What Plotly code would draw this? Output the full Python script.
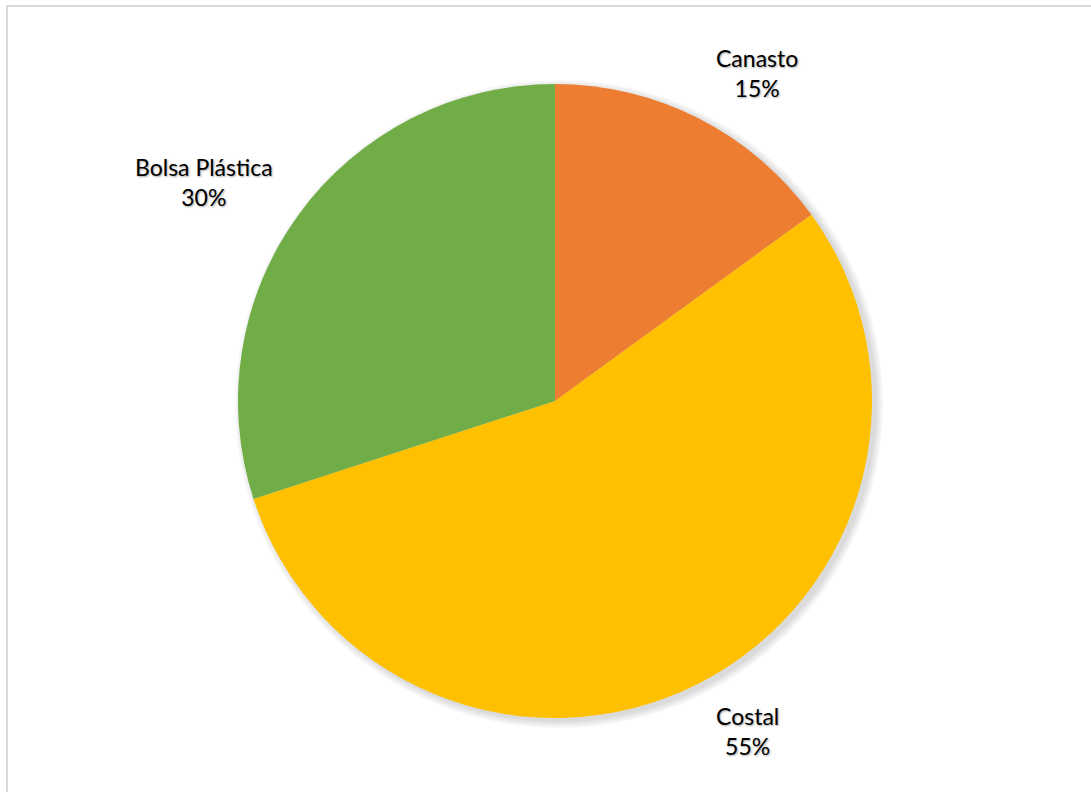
import math
import plotly.graph_objects as go

categories = ["Canasto", "Costal", "Bolsa Plástica"]
values = [15, 55, 30]
colors = ["#ED7D31", "#FFC000", "#70AD47"]

W, H = 1091, 792
cx, cy, R = 555, 401, 317

fig = go.Figure(go.Pie(
    labels=categories,
    values=values,
    sort=False,
    direction="clockwise",
    rotation=0,
    marker=dict(colors=colors, line=dict(width=0)),
    textinfo="none",
    hoverinfo="label+percent",
    domain=dict(x=[(cx - R) / W, (cx + R) / W], y=[1 - (cy + R) / H, 1 - (cy - R) / H]),
    showlegend=False,
))

# label placement (angle tweak in degrees, radial factor)
label_tweaks = [(4.7, 1.215), (-3.3, 1.205), (-4.1, 1.306)]
total = sum(values)
cum = 0
annotations = []
for cat, v, (da, rf) in zip(categories, values, label_tweaks):
    mid = (cum + v / 2) / total * 360 + da
    cum += v
    a = math.radians(mid)
    px = cx + R * rf * math.sin(a)
    py = cy - R * rf * math.cos(a)
    annotations.append(dict(
        x=px / W, y=1 - py / H, xref="paper", yref="paper",
        text=f"{cat}<br>{round(v / total * 100)}%",
        showarrow=False, align="center", xanchor="center", yanchor="middle",
        font=dict(family="Lato, Calibri, sans-serif", size=23, color="#000000",
                  shadow="1px 1px 2px rgba(0,0,0,0.35)"),
    ))

# soft drop shadow behind the pie
shapes = []
for dr in (1, 3, 5, 7):
    r = R + dr
    sx, sy = cx + 4, cy + 3
    shapes.append(dict(type="circle", xref="paper", yref="paper", layer="below",
                       x0=(sx - r) / W, x1=(sx + r) / W,
                       y0=1 - (sy + r) / H, y1=1 - (sy - r) / H,
                       fillcolor="rgba(0,0,0,0.035)", line=dict(width=0)))
shapes.append(dict(type="rect", xref="paper", yref="paper",
                   x0=7 / W, x1=1.02, y0=-0.02, y1=1 - 6 / H,
                   line=dict(color="#D9D9D9", width=2)))

fig.update_layout(
    width=W, height=H,
    margin=dict(l=0, r=0, t=0, b=0),
    paper_bgcolor="white",
    annotations=annotations,
    shapes=shapes,
)

fig.write_html("out.html", config={"displayModeBar": False},
               post_script="document.body.style.margin='0';document.body.style.padding='0';")
